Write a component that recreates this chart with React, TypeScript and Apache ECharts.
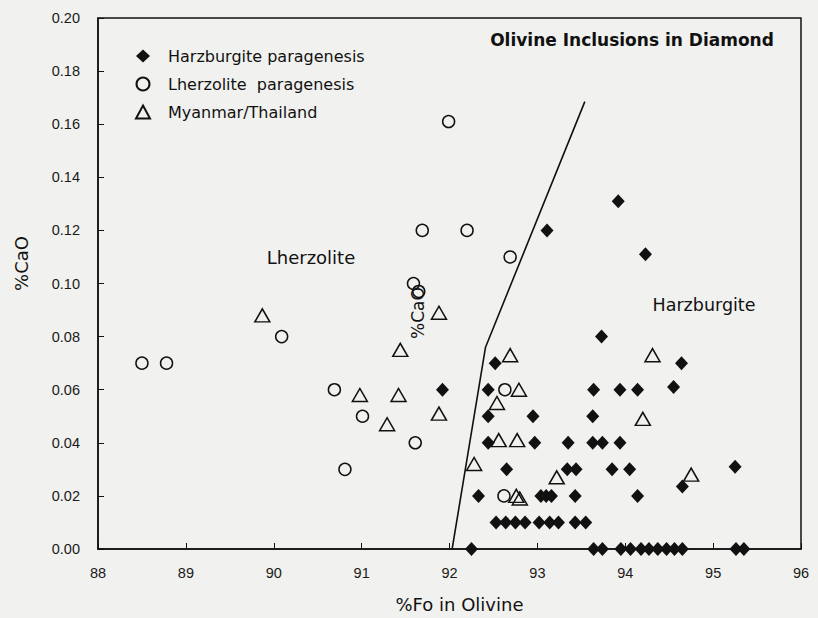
import React, { useEffect, useRef } from "react";
import * as echarts from "echarts";

const xTicks = [88, 89, 90, 91, 92, 93, 94, 95, 96];
const yTicks = [0, 0.02, 0.04, 0.06, 0.08, 0.1, 0.12, 0.14, 0.16, 0.18, 0.2];

const harzburgite: [number, number][] = [
  [91.92, 0.06], [93.11, 0.12], [93.92, 0.131], [94.23, 0.111], [93.73, 0.08],
  [92.52, 0.07], [94.64, 0.07],
  [92.44, 0.06], [93.64, 0.06], [93.94, 0.06], [94.14, 0.06], [94.55, 0.061],
  [92.44, 0.05], [92.95, 0.05], [93.63, 0.05],
  [92.44, 0.04], [92.97, 0.04], [93.35, 0.04], [93.63, 0.04], [93.74, 0.04], [93.94, 0.04],
  [92.65, 0.03], [93.34, 0.03], [93.44, 0.03], [93.85, 0.03], [94.05, 0.03], [95.25, 0.031],
  [94.65, 0.0235],
  [92.33, 0.02], [93.04, 0.02], [93.1, 0.02], [93.16, 0.02], [93.43, 0.02], [94.14, 0.02],
  [92.53, 0.01], [92.64, 0.01], [92.75, 0.01], [92.86, 0.01],
  [93.02, 0.01], [93.14, 0.01], [93.24, 0.01], [93.43, 0.01], [93.55, 0.01],
  [92.25, 0], [93.64, 0], [93.74, 0], [93.95, 0], [94.06, 0], [94.18, 0], [94.27, 0],
  [94.37, 0], [94.47, 0], [94.56, 0], [94.65, 0], [95.26, 0], [95.35, 0],
];

const lherzolite: [number, number][] = [
  [88.5, 0.07], [88.78, 0.07], [90.09, 0.08], [90.69, 0.06], [91.01, 0.05],
  [90.81, 0.03], [91.61, 0.04], [91.59, 0.1], [91.65, 0.097], [91.99, 0.161],
  [91.69, 0.12], [92.2, 0.12], [92.69, 0.11], [92.63, 0.06], [92.62, 0.02],
];

const myanmar: [number, number][] = [
  [89.87, 0.088], [91.44, 0.075], [91.88, 0.089], [90.98, 0.058], [91.42, 0.058],
  [91.29, 0.047], [91.88, 0.051], [92.69, 0.073], [94.31, 0.073], [92.79, 0.06],
  [92.54, 0.055], [94.2, 0.049], [92.56, 0.041], [92.77, 0.041], [92.28, 0.032],
  [93.22, 0.027], [94.75, 0.028], [92.76, 0.02], [92.8, 0.019],
];

const boundary: [number, number][] = [
  [92.03, 0], [92.41, 0.076], [93.54, 0.1685],
];

const FONT = "Liberation Sans, Arial, sans-serif";
const WIDE = "DejaVu Sans, Verdana, sans-serif";
const BG = "#f1f1ef";
const INK = "#111";

export default function App() {
  const ref = useRef<HTMLDivElement>(null);
  useEffect(() => {
    document.body.style.margin = "0";
    document.body.style.background = BG;
    if (!ref.current) return;
    const chart = echarts.init(ref.current, undefined, { renderer: "svg" });
    chart.setOption({
      animation: false,
      backgroundColor: BG,
      textStyle: { fontFamily: FONT },
      grid: {
        left: 98, top: 18, width: 703, height: 533,
        show: true, borderColor: INK, borderWidth: 1.5, backgroundColor: "transparent",
      },
      legend: {
        orient: "vertical",
        left: 130,
        top: 43,
        itemGap: 12,
        itemWidth: 14,
        itemHeight: 13,
        textStyle: { fontSize: 16, color: INK, fontFamily: WIDE, padding: [0, 0, 0, 13] },
        data: ["Harzburgite paragenesis", "Lherzolite  paragenesis", "Myanmar/Thailand"],
      },
      xAxis: {
        type: "value",
        min: 88, max: 96, interval: 1,
        name: "%Fo in Olivine",
        nameLocation: "middle",
        nameGap: 46,
        nameTextStyle: { fontSize: 18, color: INK, fontFamily: WIDE, padding: [0, 0, 0, 20] },
        axisLine: { lineStyle: { color: INK, width: 1.5 } },
        axisTick: { inside: true, length: 6, lineStyle: { color: INK } },
        axisLabel: {
          fontSize: 14.5, color: "#1a1a1a", margin: 16,
          customValues: xTicks,
          formatter: (v: number) => String(v),
        },
        splitLine: { show: false },
      },
      yAxis: {
        type: "value",
        min: 0, max: 0.2, interval: 0.02,
        name: "%CaO",
        nameLocation: "middle",
        nameGap: 68,
        nameTextStyle: { fontSize: 18, color: INK, fontFamily: WIDE, padding: [0, 0, 0, 40] },
        axisLine: { lineStyle: { color: INK, width: 1.5 } },
        axisTick: { inside: true, length: 6, lineStyle: { color: INK } },
        axisLabel: {
          fontSize: 14.5, color: "#1a1a1a", margin: 18,
          customValues: yTicks,
          formatter: (v: number) => v.toFixed(2),
        },
        splitLine: { show: false },
      },
      series: [
        {
          type: "line",
          data: boundary,
          showSymbol: false,
          symbol: "none",
          lineStyle: { color: INK, width: 1.6 },
          silent: true,
          z: 1,
        },
        {
          name: "Harzburgite paragenesis",
          type: "scatter",
          data: harzburgite,
          symbol: "diamond",
          symbolSize: [13, 14],
          clip: false,
          itemStyle: { color: INK, opacity: 1 },
          z: 3,
        },
        {
          name: "Lherzolite  paragenesis",
          type: "scatter",
          data: lherzolite,
          symbol: "circle",
          symbolSize: 12,
          clip: false,
          itemStyle: { color: "rgba(0,0,0,0)", borderColor: INK, borderWidth: 1.5, opacity: 1 },
          z: 2,
        },
        {
          name: "Myanmar/Thailand",
          type: "scatter",
          data: myanmar,
          symbol: "triangle",
          symbolSize: [15, 13],
          clip: false,
          itemStyle: { color: "rgba(0,0,0,0)", borderColor: INK, borderWidth: 1.5, opacity: 1 },
          z: 2,
        },
      ],
      graphic: [
        {
          type: "text", x: 632, y: 40,
          style: {
            text: "Olivine Inclusions in Diamond", font: `bold 17px ${WIDE}`, fill: INK,
            align: "center", verticalAlign: "middle",
          },
        },
        {
          type: "text", x: 311, y: 257,
          style: { text: "Lherzolite", font: `18px ${WIDE}`, fill: INK, align: "center", verticalAlign: "middle" },
        },
        {
          type: "text", x: 704, y: 305,
          style: { text: "Harzburgite", font: `17.5px ${WIDE}`, fill: INK, align: "center", verticalAlign: "middle" },
        },
        {
          type: "text", x: 418, y: 313, rotation: Math.PI / 2,
          style: { text: "%CaO", font: `17px ${WIDE}`, fill: INK, align: "center", verticalAlign: "middle" },
        },
      ],
    });
    return () => chart.dispose();
  }, []);
  return <div ref={ref} style={{ width: 818, height: 618 }} />;
}
